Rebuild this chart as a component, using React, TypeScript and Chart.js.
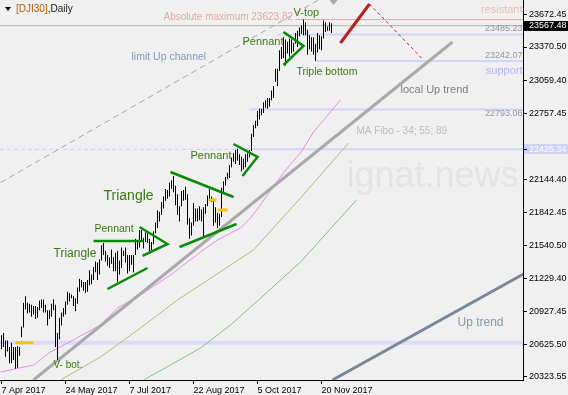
import React, { useEffect, useRef } from 'react';
import { Chart, registerables } from 'chart.js';

Chart.register(...registerables);

// ---------- axis ranges ----------
const X_MIN = -0.75;
const X_MAX = 260.75;
const Y_MIN = 20295.85;
const Y_MAX = 23804.5;

// ---------- bars (daily high / low) ----------
const barDates = [
  '2017-04-07','2017-04-10','2017-04-11','2017-04-12','2017-04-13','2017-04-17','2017-04-18','2017-04-19','2017-04-20','2017-04-21',
  '2017-04-24','2017-04-25','2017-04-26','2017-04-27','2017-04-28','2017-05-01','2017-05-02','2017-05-03','2017-05-04','2017-05-05',
  '2017-05-08','2017-05-09','2017-05-10','2017-05-11','2017-05-12','2017-05-15','2017-05-16','2017-05-17','2017-05-18','2017-05-19',
  '2017-05-22','2017-05-23','2017-05-24','2017-05-25','2017-05-26','2017-05-29','2017-05-30','2017-05-31','2017-06-01','2017-06-02',
  '2017-06-05','2017-06-06','2017-06-07','2017-06-08','2017-06-09','2017-06-12','2017-06-13','2017-06-14','2017-06-15','2017-06-16',
  '2017-06-19','2017-06-20','2017-06-21','2017-06-22','2017-06-23','2017-06-26','2017-06-27','2017-06-28','2017-06-29','2017-06-30',
  '2017-07-03','2017-07-04','2017-07-05','2017-07-06','2017-07-07','2017-07-10','2017-07-11','2017-07-12','2017-07-13','2017-07-14',
  '2017-07-17','2017-07-18','2017-07-19','2017-07-20','2017-07-21','2017-07-24','2017-07-25','2017-07-26','2017-07-27','2017-07-28',
  '2017-07-31','2017-08-01','2017-08-02','2017-08-03','2017-08-04','2017-08-07','2017-08-08','2017-08-09','2017-08-10','2017-08-11',
  '2017-08-14','2017-08-15','2017-08-16','2017-08-17','2017-08-18','2017-08-21','2017-08-22','2017-08-23','2017-08-24','2017-08-25',
  '2017-08-28','2017-08-29','2017-08-30','2017-08-31','2017-09-01','2017-09-04','2017-09-05','2017-09-06','2017-09-07','2017-09-08',
  '2017-09-11','2017-09-12','2017-09-13','2017-09-14','2017-09-15','2017-09-18','2017-09-19','2017-09-20','2017-09-21','2017-09-22',
  '2017-09-25','2017-09-26','2017-09-27','2017-09-28','2017-09-29','2017-10-02','2017-10-03','2017-10-04','2017-10-05','2017-10-06',
  '2017-10-09','2017-10-10','2017-10-11','2017-10-12','2017-10-13','2017-10-16','2017-10-17','2017-10-18','2017-10-19','2017-10-20',
  '2017-10-23','2017-10-24','2017-10-25','2017-10-26','2017-10-27','2017-10-30','2017-10-31','2017-11-01','2017-11-02','2017-11-03',
  '2017-11-06','2017-11-07','2017-11-08','2017-11-09','2017-11-10','2017-11-13','2017-11-14','2017-11-15','2017-11-16','2017-11-17',
  '2017-11-20','2017-11-21','2017-11-22','2017-11-23','2017-11-24','2017-11-27',
];

const highs = [
  20710, 20730, 20660, 20660, 20600, 20640, 20600, 20600, 20610, 20600,
  20790, 21010, 21070, 21010, 21000, 20990, 20980, 20980, 20970, 21030,
  21040, 21040, 20990, 20940, 20940, 21000, 21040, 20990, 20730, 20870,
  20920, 20960, 21020, 21110, 21100, 21085, 21070, 21050, 21150, 21230,
  21220, 21200, 21200, 21220, 21310, 21270, 21340, 21390, 21380, 21410,
  21540, 21560, 21490, 21450, 21430, 21500, 21430, 21470, 21490, 21400,
  21520, 21490, 21520, 21450, 21450, 21450, 21450, 21600, 21580, 21680,
  21680, 21610, 21660, 21670, 21600, 21570, 21670, 21750, 21860, 21850,
  21940, 21990, 22060, 22050, 22120, 22140, 22180, 22090, 22010, 21900,
  22040, 22050, 22080, 22010, 21790, 21750, 21930, 21880, 21880, 21900,
  21870, 21890, 21920, 22000, 22060, 21990, 21970, 21890, 21840, 21830,
  22070, 22130, 22170, 22210, 22280, 22350, 22390, 22420, 22430, 22380,
  22360, 22340, 22380, 22390, 22420, 22570, 22650, 22690, 22780, 22800,
  22800, 22860, 22880, 22900, 22900, 22970, 23010, 23170, 23170, 23340,
  23370, 23460, 23440, 23420, 23450, 23440, 23410, 23500, 23520, 23550,
  23570, 23624, 23600, 23530, 23480, 23460, 23460, 23400, 23500, 23480,
  23470, 23615, 23600, 23560, 23600, 23590,
];

const lows = [
  20580, 20600, 20510, 20560, 20450, 20450, 20480, 20400, 20410, 20520,
  20690, 20780, 20950, 20910, 20920, 20880, 20900, 20860, 20870, 20940,
  20960, 20920, 20920, 20800, 20860, 20880, 20940, 20600, 20480, 20670,
  20800, 20880, 20900, 20990, 21020, 21050, 20980, 20930, 21000, 21110,
  21150, 21120, 21100, 21110, 21170, 21180, 21220, 21290, 21220, 21270,
  21400, 21450, 21390, 21350, 21330, 21370, 21300, 21300, 21200, 21270,
  21330, 21440, 21380, 21280, 21300, 21360, 21290, 21450, 21500, 21520,
  21570, 21510, 21570, 21560, 21480, 21470, 21550, 21650, 21700, 21760,
  21820, 21880, 21950, 21970, 21990, 22060, 22030, 21910, 21820, 21760,
  21900, 21950, 21960, 21730, 21600, 21630, 21720, 21760, 21760, 21770,
  21760, 21620, 21830, 21900, 21950, 21940, 21720, 21750, 21700, 21720,
  21800, 22030, 22090, 22150, 22160, 22260, 22310, 22290, 22320, 22280,
  22220, 22240, 22260, 22310, 22350, 22410, 22540, 22620, 22640, 22700,
  22740, 22760, 22810, 22800, 22820, 22880, 22900, 23050, 23010, 23150,
  23260, 23270, 23200, 23310, 23280, 23310, 23330, 23400, 23370, 23470,
  23490, 23480, 23480, 23300, 23350, 23330, 23300, 23242, 23320, 23350,
  23340, 23450, 23510, 23520, 23520, 23500,
];

// ---------- axis ticks ----------
const xTickIndex = [0, 32, 64, 96, 128, 160];
const xTickLabels = ['7 Apr 2017', '24 May 2017', '7 Jul 2017', '22 Aug 2017', '5 Oct 2017', '20 Nov 2017'];
const yTickValues = [20323.55, 20625.5, 20927.45, 21229.4, 21540.5, 21842.45, 22144.4, 22425.34, 22757.45, 23059.4, 23370.5, 23567.48, 23672.45];

// ---------- levels ----------
const bidPrice = 23567.48;
const markedLevel = 22425.34;
const absMaxLevel = 23623.82;
const resistLevel = 23485.23;
const supportLevel = 23242.07;
const fiboLevel = 22793.06;
const baseLevel = 20640;

// ---------- moving averages ----------
const maPinkIdx = [-0.5, 16, 24.5, 33, 49.5, 58, 69.5, 84.5, 99.5, 108, 119.5, 124.5, 129.5, 136, 144.5, 149.5, 156, 169.5];
const maPinkVal = [20369.7, 20434.4, 20554.4, 20637.5, 20803.7, 20960.6, 21080.7, 21265.3, 21477.7, 21588.5, 21699.3, 21791.6, 21911.6, 22087.1, 22290.2, 22391.8, 22585.7, 22881.1];
const maOliveIdx = [29.5, 49.5, 69.5, 88, 107, 126, 149.5, 173.5];
const maOliveVal = [20295.9, 20508.2, 20776.0, 21034.5, 21265.3, 21496.2, 21976.3, 22484.1];
const maGreenIdx = [71, 84.5, 99.5, 114.5, 128.5, 149.5, 177.5];
const maGreenVal = [20295.9, 20434.4, 20591.3, 20803.7, 21034.5, 21385.4, 21957.9];

// ---------- drawn trend lines (index, price) ----------
const channelIdx = [-0.5, 158.5];
const channelVal = [22118.5, 23804.5];
const localTrendIdx = [16, 225.5];
const localTrendVal = [20295.9, 23416.7];
const upTrendIdx = [165.5, 261];
const upTrendVal = [20295.9, 21274.6];
const redArrowIdx = [169.5, 184];
const redArrowVal = [23407.5, 23767.5];
const redDashIdx = [184, 210.5];
const redDashVal = [23767.5, 23259.7];

// ---------- chart patterns ----------
const triLeftTopIdx = [46, 71];
const triLeftTopVal = [21579.3, 21579.3];
const triLeftBotIdx = [53, 73];
const triLeftBotVal = [21136.1, 21330.0];
const penLeftIdx = [69, 83, 70.5];
const penLeftVal = [21708.5, 21551.6, 21440.8];
const triBigTopIdx = [84.5, 116];
const triBigTopVal = [22216.4, 21985.5];
const triBigBotIdx = [89, 117.5];
const triBigBotVal = [21523.9, 21736.2];
const penMidIdx = [116, 128, 120.5];
const penMidVal = [22474.9, 22354.9, 22179.4];
const penTopIdx = [141, 151, 141];
const penTopVal = [23509.0, 23379.8, 23204.1];

// ---------- yellow marks ----------
const yellowA = { idx: [7, 16], val: 20640 };
const yellowB = { idx: [103.5, 107.5], val: 21957.8 };
const yellowC = { idx: [108, 113], val: 21865.5 };

// ---------- text labels ----------
const GREEN_TXT = '#3b7a12';
const labelTexts = ['Absolute maximum 23623.82', 'resistant', '23485.23', '23242.07', 'support', '22793.06', 'limit Up channel', 'local Up trend', 'MA Fibo - 34; 55; 89', 'Up trend', 'V-top', 'Pennant', 'Triple bottom', 'Pennant', 'Triangle', 'Pennant', 'Triangle', 'V- bot.'];
const labelIdx = [81, 260.5, 260.5, 260.5, 260.5, 260.5, 65, 199.5, 177.5, 228, 146, 120.5, 147.5, 94.5, 51, 46.5, 26, 26];
const labelVal = [23647.5, 23712.2, 23536.7, 23287.5, 23149.0, 22751.9, 23278.2, 22973.5, 22594.9, 20822.1, 23684.4, 23416.7, 23139.7, 22364.1, 21994.8, 21690.1, 21459.3, 20434.4];
const labelSize = [10, 11, 9, 9, 11, 9, 10.5, 11, 10, 12, 11, 11, 10.5, 11, 14, 10.5, 12, 10];
const labelColor = ['#e0a9a1', '#e6c2bb', '#8f98a8', '#8f98a8', '#b3b3ef', '#8f98a8', '#8797bb', '#808080', '#bdbdbd', '#8898b0', GREEN_TXT, GREEN_TXT, GREEN_TXT, GREEN_TXT, GREEN_TXT, GREEN_TXT, GREEN_TXT, GREEN_TXT];
const labelAlign = ['left', 'right', 'right', 'right', 'right', 'right', 'left', 'left', 'left', 'left', 'left', 'left', 'left', 'left', 'left', 'left', 'left', 'left'];

const BG = '#f0f0f0';
const FONT = "'Liberation Sans', Arial, sans-serif";

const pts = (xs: number[], ys: number[]) => xs.map((x, k) => ({ x, y: ys[k] }));
const hline = (v: number, from: number, to: number) => [{ x: from, y: v }, { x: to, y: v }];

function lineDs(data: any[], color: string, width: number, order: number, dash: number[] = []) {
  return {
    type: 'line' as const,
    data,
    borderColor: color,
    backgroundColor: color,
    borderWidth: width,
    borderDash: dash,
    pointRadius: 0,
    pointHoverRadius: 0,
    fill: false,
    tension: 0,
    order,
    clip: 0,
  };
}

const overlayPlugin = {
  id: 'overlay',
  beforeDraw(chart: any) {
    const { ctx, width, height } = chart;
    const ys = chart.scales.y;
    const ca = chart.chartArea;
    ctx.save();
    ctx.fillStyle = BG;
    ctx.fillRect(0, 0, width, height);
    const yb = Math.round(ys.getPixelForValue(bidPrice));
    ctx.fillStyle = '#000';
    ctx.fillRect(ca.right + 1, yb - 5, 45, 10);
    const ym = Math.round(ys.getPixelForValue(markedLevel));
    ctx.fillStyle = '#d2d2f6';
    ctx.fillRect(ca.right + 1, ym - 5, 45, 10);
    ctx.restore();
  },
  beforeDatasetsDraw(chart: any) {
    const { ctx } = chart;
    const xs = chart.scales.x;
    const ys = chart.scales.y;
    ctx.save();
    ctx.font = `36px ${FONT}`;
    ctx.fillStyle = '#e4e4e4';
    ctx.textAlign = 'left';
    ctx.textBaseline = 'alphabetic';
    ctx.fillText('ignat.news', xs.getPixelForValue(172.5), ys.getPixelForValue(22077.9));
    ctx.restore();
  },
  afterDatasetsDraw(chart: any) {
    const { ctx } = chart;
    const xs = chart.scales.x;
    const ys = chart.scales.y;
    const ca = chart.chartArea;
    ctx.save();
    ctx.textBaseline = 'middle';
    labelTexts.forEach((t, k) => {
      ctx.font = `${labelSize[k]}px ${FONT}`;
      ctx.fillStyle = labelColor[k];
      ctx.textAlign = labelAlign[k];
      ctx.fillText(t, xs.getPixelForValue(labelIdx[k]), ys.getPixelForValue(labelVal[k]));
    });
    // chart shift marker
    const sx = xs.getPixelForValue(166);
    ctx.fillStyle = '#a8a8a8';
    ctx.beginPath();
    ctx.moveTo(sx - 4, ca.top);
    ctx.lineTo(sx + 4, ca.top);
    ctx.lineTo(sx, ca.top + 5);
    ctx.closePath();
    ctx.fill();
    // title
    ctx.fillStyle = '#000';
    ctx.beginPath();
    ctx.moveTo(5, 7);
    ctx.lineTo(11, 7);
    ctx.lineTo(8, 11);
    ctx.closePath();
    ctx.fill();
    ctx.font = `10px ${FONT}`;
    ctx.textAlign = 'left';
    ctx.fillStyle = '#b05a00';
    ctx.fillText('[DJI30]', 16, 9);
    const w = ctx.measureText('[DJI30]').width;
    ctx.fillStyle = '#1a1a1a';
    ctx.fillText(',Daily', 16 + w, 9);
    ctx.restore();
  },
};

export default function App() {
  const ref = useRef<HTMLCanvasElement | null>(null);

  useEffect(() => {
    document.body.style.margin = '0';
    document.body.style.background = BG;
    const canvas = ref.current;
    if (!canvas) return;

    const LAV = '#d4d4f7';
    const datasets: any[] = [
      lineDs(hline(baseLevel, X_MIN, X_MAX), '#dcdcf8', 4, 30),
      lineDs(hline(markedLevel, X_MIN, X_MAX), '#cfcff2', 1, 30, [4, 3]),
      lineDs(hline(markedLevel, 116, X_MAX), LAV, 2, 29),
      lineDs(hline(fiboLevel, 124, X_MAX), LAV, 2, 29),
      lineDs(hline(supportLevel, 157, X_MAX), LAV, 2, 29),
      lineDs(hline(resistLevel, 138, X_MAX), LAV, 2, 29),
      lineDs(hline(bidPrice, X_MIN, X_MAX), '#b4b4b4', 1, 28),
      lineDs(hline(absMaxLevel, 147, X_MAX), '#dcaaa2', 1, 28),
      lineDs(pts(maPinkIdx, maPinkVal), '#e48fe4', 1, 25),
      lineDs(pts(maOliveIdx, maOliveVal), '#bcb870', 1, 25),
      lineDs(pts(maGreenIdx, maGreenVal), '#86bf86', 1, 25),
      lineDs(pts(channelIdx, channelVal), '#a6a6a6', 1, 22, [6, 4]),
      lineDs(pts(localTrendIdx, localTrendVal), '#a9a9a9', 3, 22),
      lineDs(pts(upTrendIdx, upTrendVal), '#7b8898', 3, 22),
      lineDs(pts(redArrowIdx, redArrowVal), '#b22222', 3, 22),
      lineDs(pts(redDashIdx, redDashVal), '#b22222', 1, 22, [3, 3]),
      {
        type: 'bar',
        data: highs.map((h, k) => ({ x: k, y: [lows[k], h] })),
        backgroundColor: '#000',
        borderWidth: 0,
        barThickness: 1,
        inflateAmount: 0,
        grouped: false,
        order: 15,
        label: barDates.length + ' bars',
      },
      lineDs(hline(yellowA.val, yellowA.idx[0], yellowA.idx[1]), '#f5c400', 3, 8),
      lineDs(hline(yellowB.val, yellowB.idx[0], yellowB.idx[1]), '#f5c400', 3, 8),
      lineDs(hline(yellowC.val, yellowC.idx[0], yellowC.idx[1]), '#f5c400', 3, 8),
      lineDs(pts(triLeftTopIdx, triLeftTopVal), '#0a8a0a', 2.5, 5),
      lineDs(pts(triLeftBotIdx, triLeftBotVal), '#0a8a0a', 2.5, 5),
      lineDs(pts(penLeftIdx, penLeftVal), '#0a8a0a', 2.5, 5),
      lineDs(pts(triBigTopIdx, triBigTopVal), '#0a8a0a', 2.5, 5),
      lineDs(pts(triBigBotIdx, triBigBotVal), '#0a8a0a', 2.5, 5),
      lineDs(pts(penMidIdx, penMidVal), '#0a8a0a', 2.5, 5),
      lineDs(pts(penTopIdx, penTopVal), '#0a8a0a', 2.5, 5),
    ];

    const chart = new Chart(canvas, {
      type: 'bar',
      data: { datasets },
      plugins: [overlayPlugin],
      options: {
        responsive: false,
        animation: false,
        events: [],
        layout: { padding: 0 },
        plugins: { legend: { display: false }, tooltip: { enabled: false }, title: { display: false } },
        scales: {
          x: {
            type: 'linear',
            min: X_MIN,
            max: X_MAX,
            offset: false,
            position: 'bottom',
            grid: { display: true, drawOnChartArea: false, drawTicks: true, tickLength: 4, color: '#000', offset: false },
            border: { display: true, color: '#000', width: 1 },
            afterBuildTicks: (s: any) => { s.ticks = xTickIndex.map((v) => ({ value: v })); },
            afterFit: (s: any) => { s.height = 15; s.paddingLeft = 0; s.paddingRight = 0; },
            ticks: {
              autoSkip: false,
              maxRotation: 0,
              minRotation: 0,
              align: 'start',
              padding: 1,
              color: '#000',
              font: { family: FONT, size: 9 },
              callback: (v: any) => {
                const k = xTickIndex.indexOf(Number(v));
                return k >= 0 ? xTickLabels[k] : '';
              },
            },
          },
          y: {
            type: 'linear',
            position: 'right',
            min: Y_MIN,
            max: Y_MAX,
            beginAtZero: false,
            grid: { display: true, drawOnChartArea: false, drawTicks: true, tickLength: 4, color: '#000' },
            border: { display: true, color: '#000', width: 1 },
            afterBuildTicks: (s: any) => { s.ticks = yTickValues.map((v) => ({ value: v })); },
            afterFit: (s: any) => { s.width = 45; s.paddingTop = 0; s.paddingBottom = 0; },
            ticks: {
              autoSkip: false,
              padding: 2,
              font: { family: FONT, size: 9 },
              color: (c: any) => (c.tick && (c.tick.value === bidPrice || c.tick.value === markedLevel) ? '#ffffff' : '#000000'),
              callback: (v: any) => Number(v).toFixed(2),
            },
          },
        },
      } as any,
    });

    return () => chart.destroy();
  }, []);

  return (
    <div style={{ width: 568, height: 395, background: BG }}>
      <canvas ref={ref} width={568} height={395} style={{ display: 'block', width: 568, height: 395 }} />
    </div>
  );
}
